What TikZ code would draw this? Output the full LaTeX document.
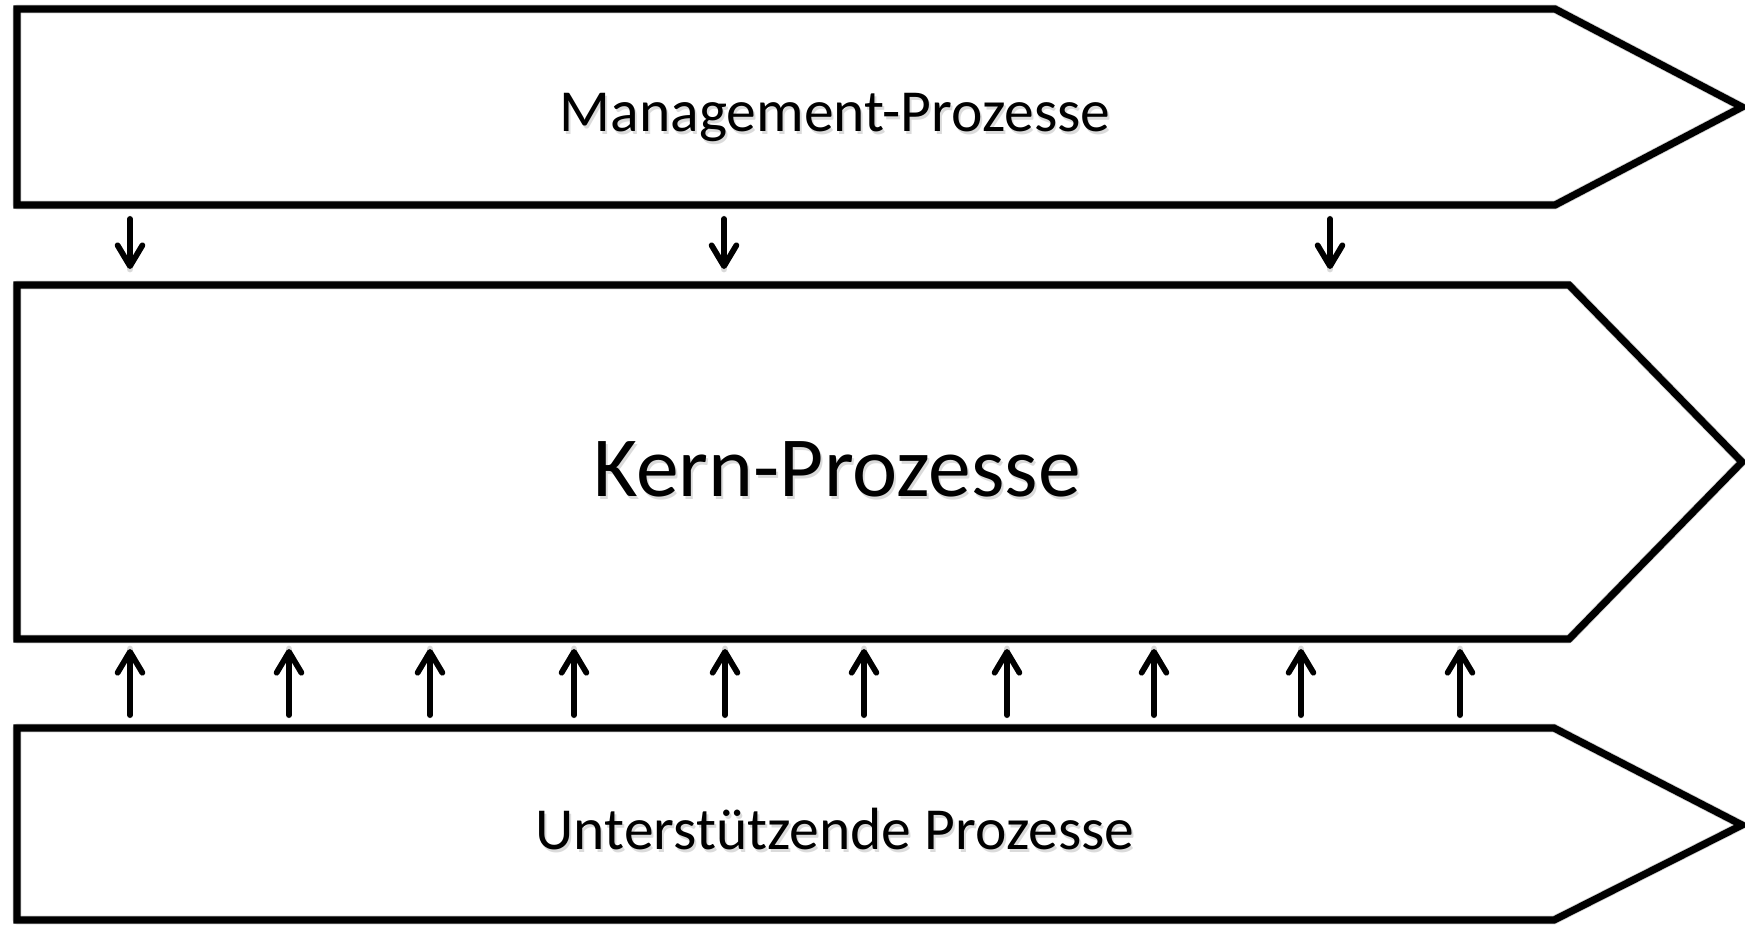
\documentclass[tikz,border=0pt]{standalone}
\usepackage{fontspec}
\setmainfont{Carlito}
\usetikzlibrary{arrows.meta}
\begin{document}
\begin{tikzpicture}[x=0.25pt,y=-0.25pt,
  proc/.style={draw=black, line width=1.8pt, line join=miter},
  procshadow/.style={draw=black!18, line width=2.2pt, line join=round},
  flow/.style={line width=1.45pt, line cap=round,
    -{Straight Barb[length=5.2pt,width=6.2pt,line cap=round,line join=round]}},
  flowshadow/.style={draw=black!15, line width=1.7pt, line cap=round},
  lbl/.style={inner sep=0pt, anchor=base, font=\fontsize{14.9}{18}\selectfont},
  biglbl/.style={inner sep=0pt, anchor=base, font=\fontsize{21.4}{25}\selectfont}]
\useasboundingbox (0,0) rectangle (1745,925);

% corner coordinates
\coordinate (m1) at (17,9);   \coordinate (m2) at (1555,9);  \coordinate (m3) at (1742,107);
\coordinate (m4) at (1555,205); \coordinate (m5) at (17,205);
\coordinate (k1) at (17,285); \coordinate (k2) at (1569,285); \coordinate (k3) at (1742,462);
\coordinate (k4) at (1569,639); \coordinate (k5) at (17,639);
\coordinate (u1) at (17,728); \coordinate (u2) at (1554,728); \coordinate (u3) at (1742,825);
\coordinate (u4) at (1554,920); \coordinate (u5) at (17,920);

% shadows
\foreach \p in {m,k,u}{
  \draw[procshadow, shift={(2,3)}] (\p1) -- (\p2) -- (\p3) -- (\p4) -- (\p5) -- cycle;
}
% shapes
\foreach \p in {m,k,u}{
  \draw[proc] (\p1) -- (\p2) -- (\p3) -- (\p4) -- (\p5) -- cycle;
}

% labels
\node[lbl, text=black!14] at (837,134) {Management-Prozesse};
\node[lbl] (mgmt) at (835,131) {Management-Prozesse};
\node[biglbl, text=black!14] at (839,499) {Kern-Prozesse};
\node[biglbl] (kern) at (837,496) {Kern-Prozesse};
\node[lbl, text=black!14] at (837,852) {Unterstützende Prozesse};
\node[lbl] (unter) at (835,849) {Unterstützende Prozesse};

% down arrows
\foreach \x [count=\i] in {130,724,1330}{
  \coordinate (d\i s) at (\x,219);
  \coordinate (d\i e) at (\x,269);
  \draw[flowshadow, shift={(1.5,3)}] (d\i s) -- (d\i e);
  \draw[flow] (d\i s) -- (d\i e);
}
% up arrows
\foreach \x [count=\i] in {130,289,430,574,725,864,1007,1154,1301,1460}{
  \coordinate (a\i s) at (\x,715);
  \coordinate (a\i e) at (\x,649);
  \draw[flowshadow, shift={(1.5,3)}] (a\i s) -- (a\i e);
  \draw[flow] (a\i s) -- (a\i e);
}
\end{tikzpicture}
\end{document}
